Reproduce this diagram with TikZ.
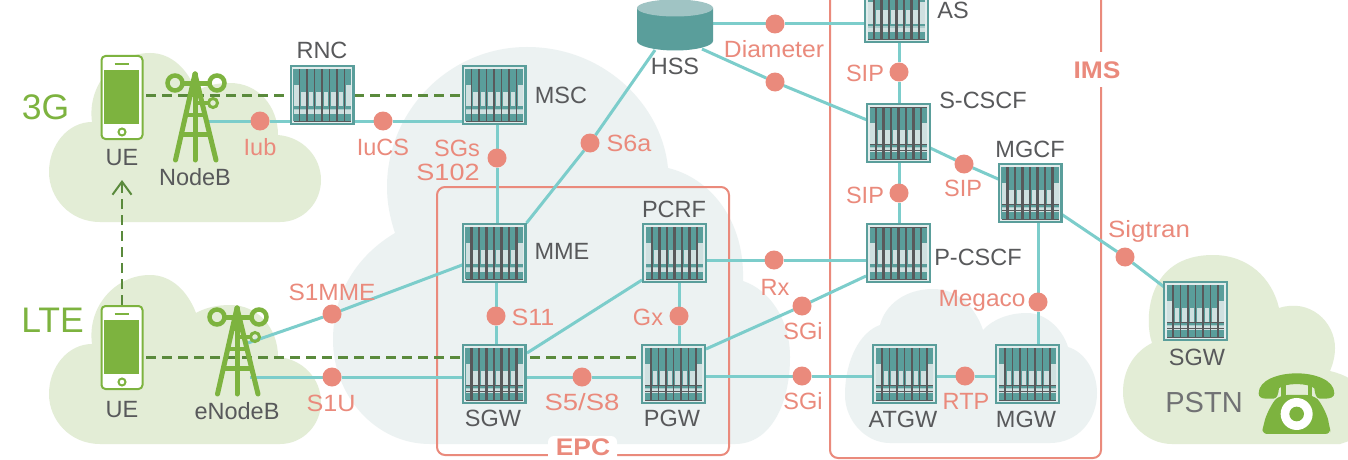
\documentclass[tikz,border=0pt]{standalone}
\usepackage{fontspec}
\setmainfont{Liberation Sans}
\usetikzlibrary{arrows.meta}
\definecolor{teal1}{HTML}{5A9E9B}
\definecolor{strip}{HTML}{CFE0E0}
\definecolor{band}{HTML}{A9CCCB}
\definecolor{darkl}{HTML}{58595B}
\definecolor{wire}{HTML}{7CCDCB}
\definecolor{salmon}{HTML}{EA8A7C}
\definecolor{leaf}{HTML}{7DB33F}
\definecolor{dashg}{HTML}{5A8A3C}
\definecolor{cloudg}{HTML}{E3EDD6}
\definecolor{cloudb}{HTML}{ECF2F2}
\definecolor{hsstop}{HTML}{A0C4C4}
\pgfdeclarelayer{bgl}
\pgfdeclarelayer{edges}
\pgfsetlayers{bgl,edges,main}
\tikzset{
  srvbox/.style={fill=teal1,minimum width=65pt,minimum height=60pt,inner sep=0pt,outer sep=0pt},
  graylab/.style={text=darkl,inner sep=0pt,font=\fontsize{23.5}{28}\selectfont},
  redlab/.style={text=salmon,inner sep=0pt,font=\fontsize{23.5}{28}\selectfont},
  grouplab/.style={text=salmon,inner sep=0pt,font=\fontsize{24}{26}\selectfont\bfseries},
  biglab/.style={text=leaf,inner sep=0pt,font=\fontsize{35.5}{38}\selectfont},
  dot/.style={circle,fill=salmon,minimum size=19pt,inner sep=0pt,outer sep=0pt},
  wireline/.style={draw=wire,line width=3pt},
  dashline/.style={draw=dashg,line width=3pt,dash pattern=on 10pt off 6pt},
  groupbox/.style={draw=salmon,line width=2pt,rounded corners=8pt},
  towerline/.style={draw=leaf,line width=5pt,line cap=round},
  anchorbox/.style={inner sep=0pt,outer sep=0pt}
}
\newcommand{\srvicon}[6]{%
  \node[srvbox] (#1) at (#2,#3) {};
  \begin{scope}[shift={(#1.north west)}]
    \draw[draw=strip!60!white,fill=teal1,line width=1.1pt] (3,3) rectangle (62,57);
    \fill[strip] (4,19.5) rectangle (9,41);
    \fill[strip] (56,19.5) rectangle (61,41);
    \foreach \cx in {11.5,19,26.5,34,41.5,49}{\fill[strip] (\cx,27) rectangle (\cx+4.5,41);}
    \fill[band] (4,43.5) rectangle (61,45);
    \fill[strip] (4,45) rectangle (61,49);
    \ifnum#6=1
      \foreach \lx in {17.5,32.5,47.5}{\draw[darkl,line width=1.2pt] (\lx,4) -- (\lx,56.5);}
      \foreach \lx in {10,25,40,55}{\draw[darkl,line width=2.2pt] (\lx,4) -- (\lx,56.5);}
    \else
      \foreach \lx in {10,25,40,55}{\draw[darkl,line width=1.2pt] (\lx,4) -- (\lx,56.5);}
      \foreach \lx in {17.5,32.5,47.5}{\draw[darkl,line width=2.2pt] (\lx,4) -- (\lx,56.5);}
    \fi
    \draw[darkl,line width=.9pt] (4,56) -- (61,56);
    \ifnum#4=1
      \draw[darkl,line width=1pt] (4,41) -- (61,41);
      \draw[darkl,line width=.7pt] (4,47) -- (61,47);
    \fi
    \ifnum#5=1
      \draw[darkl,line width=1pt] (4,4) -- (61,4);
    \fi
  \end{scope}}
\newcommand{\phoneicon}[2]{%
  \node[draw=leaf,fill=white,line width=2pt,rounded corners=4pt,minimum width=41pt,minimum height=83pt,inner sep=0pt,outer sep=1pt] (#1) at (122,#2) {};
  \begin{scope}[shift={(0,#2-97.5)}]
    \fill[leaf] (104,70) rectangle (139,124);
    \draw[leaf,line width=2pt] (114.5,64) -- (129,64);
    \draw[leaf,line width=2pt] (122,132) circle (3.5);
  \end{scope}}
\newcommand{\towericon}[3]{%
  \node[anchorbox,minimum width=64pt,minimum height=90pt] (#1) at (#2+195,#3+116) {};
  \begin{scope}[shift={(#2,#3)}]
    \draw[towerline] (195,74) -- (175.5,160);
    \draw[towerline] (195,74) -- (195,160);
    \draw[towerline] (195,74) -- (216,160);
    \draw[towerline,line width=4pt,line cap=butt] (189,95) -- (201,95);
    \draw[towerline,line width=4pt,line cap=butt] (185,115) -- (205,115);
    \draw[towerline,line cap=butt] (180,134) -- (210,134);
    \draw[towerline,line cap=butt] (182,83) -- (210,83);
    \draw[towerline,line width=4pt,line cap=butt] (195,103) -- (209,103);
    \draw[leaf,line width=4.5pt] (175,83) circle (7.5);
    \draw[leaf,line width=4.5pt] (217,83) circle (7.5);
    \draw[leaf,line width=3pt] (213,103) circle (4.5);
  \end{scope}}
\newcommand{\cloudG}{(100,222) .. controls (70,222) and (49,198) .. (49,172) .. controls (49,145) and (68,122) .. (92,122) .. controls (87,85) and (115,53) .. (150,53) .. controls (172,53) and (188,70) .. (196,91) .. controls (205,86) and (216,83) .. (230,83) .. controls (258,83) and (278,106) .. (278,135) .. controls (303,137) and (321,157) .. (321,180) .. controls (321,203) and (303,222) .. (280,222) -- cycle}
\begin{document}
\begin{tikzpicture}[x=1pt,y=-1pt]
\useasboundingbox (0,0) rectangle (1348,460);
% ---- clouds and group boxes
\begin{pgfonlayer}{bgl}
  \fill[white] (0,0) rectangle (1348,460);
  \fill[cloudg] \cloudG;
  \begin{scope}[shift={(0,222)}]
    \fill[cloudg] \cloudG;
  \end{scope}
  \fill[cloudg] (1172,444) .. controls (1145,444) and (1123,420) .. (1123,392) .. controls (1123,370) and (1134,352) .. (1152,343) .. controls (1144,320) and (1146,255) .. (1213,255) .. controls (1248,255) and (1272,278) .. (1279,308) .. controls (1310,298) and (1335,322) .. (1335,348) .. controls (1335,356) and (1333,364) .. (1330,371) .. controls (1338,373) and (1344,375) .. (1352,380) -- (1352,440) -- (1340,444) -- cycle;
  \fill[cloudb] (430,444) .. controls (375,444) and (333,395) .. (333,340) .. controls (333,292) and (358,255) .. (395,233) .. controls (390,218) and (387,203) .. (387,187) .. controls (387,110) and (450,47) .. (527,47) .. controls (604,47) and (662,105) .. (668,168) .. controls (710,178) and (745,220) .. (743,281) .. controls (770,290) and (790,320) .. (790,357) .. controls (790,405) and (770,444) .. (735,444) -- cycle;
  \fill[cloudb] (890,443) .. controls (865,443) and (845,420) .. (845,395) .. controls (845,360) and (860,332) .. (880,325) .. controls (885,305) and (905,289) .. (933,289) .. controls (958,289) and (975,307) .. (983,330) .. controls (992,320) and (1008,313) .. (1027,313) .. controls (1045,313) and (1062,328) .. (1068,347) .. controls (1085,352) and (1097,372) .. (1097,393) .. controls (1097,420) and (1078,443) .. (1050,443) -- cycle;
  \draw[groupbox] (437,187) rectangle (729,455);
  \draw[groupbox] (830,-20) rectangle (1101,458);
  \fill[white,rounded corners=6pt] (548,436) rectangle (617,470);
  \fill[white] (1085,52) rectangle (1115,87);
\end{pgfonlayer}
% ---- named equipment
\phoneicon{ue1}{97.5}
\phoneicon{ue2}{347.5}
\towericon{nodeb}{0}{0}
\towericon{enodeb}{42}{234}
\srvicon{rnc}{322}{95}{0}{0}{0}
\srvicon{msc}{494}{95}{0}{0}{0}
\srvicon{mme}{494}{253}{0}{0}{1}
\srvicon{pcrf}{674.5}{253}{0}{0}{0}
\srvicon{sgw}{494}{374}{1}{0}{1}
\srvicon{pgw}{673.5}{374}{1}{0}{1}
\srvicon{as}{896.5}{13}{0}{1}{0}
\srvicon{scscf}{898.5}{133}{1}{1}{0}
\srvicon{mgcf}{1030}{193}{1}{0}{1}
\srvicon{pcscf}{898.5}{253}{0}{1}{0}
\srvicon{atgw}{904.5}{374}{1}{0}{1}
\srvicon{mgw}{1027.5}{374}{1}{0}{1}
\srvicon{sgwb}{1195.5}{311}{1}{0}{1}
% HSS
\node[anchorbox,minimum width=76pt,minimum height=52pt] (hss) at (675,24) {};
\fill[teal1] (637,8) -- (637,41) .. controls (637,46) and (654,50.5) .. (675,50.5) .. controls (696,50.5) and (713,46) .. (713,41) -- (713,8) -- cycle;
\fill[hsstop] (675,8) ellipse (38 and 8.5);
% telephone
\node[anchorbox,minimum width=76pt,minimum height=62pt] (phone) at (1296,403) {};
\begin{scope}[shift={(1120,260)},x=.3333pt,y=-.3333pt]
  \fill[leaf] (416,400) .. controls (416,360) and (475,340) .. (530,340) .. controls (585,340) and (643,360) .. (643,400) .. controls (643,412) and (630,416) .. (615,416) -- (600,416) .. controls (590,416) and (585,405) .. (583,385) .. controls (565,368) and (495,368) .. (477,385) .. controls (475,405) and (470,416) .. (460,416) -- (440,416) .. controls (425,416) and (416,412) .. (416,400) -- cycle;
  \fill[leaf] (483,372) rectangle (497,410);
  \fill[leaf] (563,372) rectangle (577,410);
  \fill[leaf,rounded corners=6pt] (424,522) -- (430,500) .. controls (438,465) and (458,425) .. (483,405) -- (577,405) .. controls (602,425) and (622,465) .. (628,500) -- (634,522) -- cycle;
  \fill[white] (530,462) circle (48);
  \fill[leaf] (530,462) circle (22);
\end{scope}
% ---- interface dots
\node[dot] (iub) at (260,121) {};
\node[dot] (iucs) at (383,121) {};
\node[dot] (sgs) at (497,158) {};
\node[dot] (s6a) at (590,143) {};
\node[dot] (s1mme) at (332,314) {};
\node[dot] (s1u) at (332,377) {};
\node[dot] (s11) at (496,316) {};
\node[dot] (s5) at (582,377) {};
\node[dot] (gx) at (679,316) {};
\node[dot] (rx) at (774,260) {};
\node[dot] (sgia) at (802,306) {};
\node[dot] (sgib) at (802,376) {};
\node[dot] (rtp) at (965,376) {};
\node[dot] (diam) at (775,24) {};
\node[dot] (diamb) at (775,82) {};
\node[dot] (sipa) at (899,72) {};
\node[dot] (sipb) at (899,193) {};
\node[dot] (sipc) at (964,164) {};
\node[dot] (sigt) at (1125,257) {};
\node[dot] (mega) at (1038,302) {};
% ---- free connector ends
\coordinate (nbport) at (206,121);
\coordinate (enbport) at (250,377);
\coordinate (enbant) at (248,343);
\coordinate (uedasha) at (146,95);
\coordinate (uedashb) at (146,357);
\coordinate (uetip) at (122,180);
\coordinate (hsss) at (655,50);
\coordinate (hssd) at (702,49);
\coordinate (sgwup) at (527,353);
\coordinate (pcrfdn) at (642,280);
\coordinate (pgwup) at (706,349);
\coordinate (pcscfdn) at (866,276);
% ---- connectors
\begin{pgfonlayer}{edges}
  \draw[dashline] (uedasha) -- (msc.center |- uedasha);
  \draw[dashline] (uedashb) -- (pgw.center |- uedashb);
  \draw[draw=dashg,line width=2.5pt,dash pattern=on 10pt off 6pt,-{Straight Barb[length=13pt,width=19pt,line width=2pt]}] (ue2.north) -- (uetip);
  \draw[wireline] (nbport) -- (iub) -- (iucs) -- (msc.center |- iucs);
  \draw[wireline] (enbport) -- (s1u) -- (s5) -- (pgw.center |- s5);
  \draw[wireline] (enbant) -- (s1mme) -- (mme.center);
  \draw[wireline] (sgs |- msc.center) -- (sgs) -- (sgs |- mme.center);
  \draw[wireline] (s11 |- mme.center) -- (s11) -- (s11 |- sgw.center);
  \draw[wireline] (mme.north east) -- (s6a) -- (hsss);
  \draw[wireline] (sgwup) -- (pcrfdn);
  \draw[wireline] (gx |- pcrf.center) -- (gx) -- (gx |- pgw.center);
  \draw[wireline] (pcrf.center |- rx) -- (rx) -- (pcscf.center |- rx);
  \draw[wireline] (pgwup) -- (sgia) -- (pcscfdn);
  \draw[wireline] (pgw.center |- sgib) -- (sgib) -- (rtp) -- (mgw.center |- rtp);
  \draw[wireline] (hss.center |- diam) -- (diam) -- (as.center |- diam);
  \draw[wireline] (hssd) -- (diamb) -- (scscf.center);
  \draw[wireline] (sipa |- as.center) -- (sipa) -- (sipb) -- (sipb |- pcscf.center);
  \draw[wireline] (scscf.center) -- (sipc) -- (mgcf.center);
  \draw[wireline] (mgcf.center) -- (sigt) -- (sgwb.center);
  \draw[wireline] (mega |- mgcf.center) -- (mega) -- (mega |- mgw.center);
\end{pgfonlayer}
% ---- labels
\node[biglab] (l3g) at (45.5,107) {3G};
\node[biglab] (llte) at (52.5,320) {LTE};
\node[graylab] (lue1) at (122,158) {UE};
\node[graylab] (lue2) at (122,410) {UE};
\node[graylab] (lnb) at (195,177) {NodeB};
\node[graylab] (lenb) at (237,411) {eNodeB};
\node[graylab] (lrnc) at (322,50) {RNC};
\node[graylab] (lmsc) at (561,95) {MSC};
\node[graylab] (lmme) at (562,251) {MME};
\node[graylab] (lpcrf) at (674,209) {PCRF};
\node[graylab] (lsgw) at (493,418) {SGW};
\node[graylab] (lpgw) at (672,418) {PGW};
\node[graylab] (lhss) at (675,66) {HSS};
\node[graylab] (las) at (953,10) {AS};
\node[graylab] (lsc) at (983,100) {S-CSCF};
\node[graylab] (lmg) at (1030,149) {MGCF};
\node[graylab] (lpc) at (978,257) {P-CSCF};
\node[graylab] (lat) at (903,419) {ATGW};
\node[graylab] (lmgw) at (1026,419) {MGW};
\node[graylab] (lsgwb) at (1197,357) {SGW};
\node[text=darkl!85,inner sep=0pt,font=\fontsize{29}{32}\selectfont] (lpstn) at (1204,403) {PSTN};
\node[redlab] (tiub) at (260,147) {Iub};
\node[redlab] (tiucs) at (383,147) {IuCS};
\node[redlab] (tsgs) at (457,148) {SGs};
\node[redlab] (ts102) at (448,172) {\scalebox{1.15}[1]{S102}};
\node[redlab] (ts6a) at (629,143) {\scalebox{1.07}[1]{S6a}};
\node[redlab] (ts1m) at (332,292) {\scalebox{1.04}[1]{S1MME}};
\node[redlab] (ts1u) at (331,403) {\scalebox{1.07}[1]{S1U}};
\node[redlab] (ts11) at (533,317) {\scalebox{1.07}[1]{S11}};
\node[redlab] (tgx) at (648,317) {Gx};
\node[redlab] (trx) at (775,287) {Rx};
\node[redlab] (tsgia) at (803,331) {SGi};
\node[redlab] (tsgib) at (803,401) {SGi};
\node[redlab] (ts5) at (582,402) {\scalebox{1.17}[1]{S5/S8}};
\node[redlab] (trtp) at (966,401) {RTP};
\node[redlab] (tmega) at (982,301) {\scalebox{1.04}[1]{Megaco}};
\node[redlab] (tdiam) at (774,49) {\scalebox{1.05}[1]{Diameter}};
\node[redlab] (tsipa) at (865,73) {SIP};
\node[redlab] (tsipb) at (865,195) {SIP};
\node[redlab] (tsipc) at (963,188) {SIP};
\node[redlab] (tsigt) at (1149,231) {\scalebox{1.1}[1]{Sigtran}};
\node[grouplab] (tepc) at (583,447) {\scalebox{1.1}[1]{EPC}};
\node[grouplab] (tims) at (1097,70) {\scalebox{1.1}[1]{IMS}};
\end{tikzpicture}
\end{document}
